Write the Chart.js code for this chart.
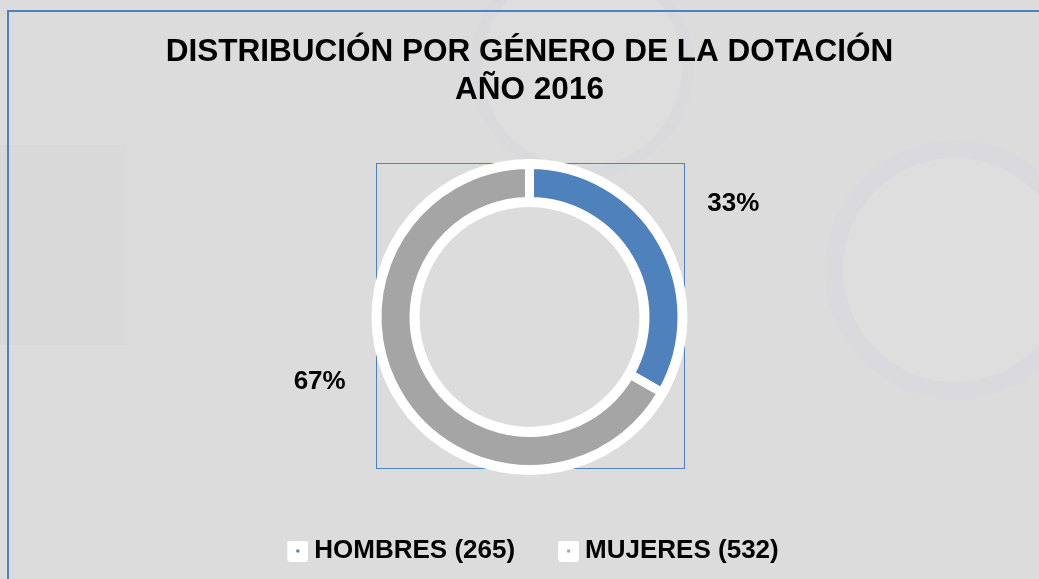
<!DOCTYPE html>
<html>
<head>
<meta charset="utf-8">
<script src="https://cdn.jsdelivr.net/npm/chart.js@4/dist/chart.umd.min.js"></script>
<style>
  html, body { margin: 0; padding: 0; background: #dcdcdc; overflow: hidden; }
  #wrap { position: relative; width: 1039px; height: 579px; overflow: hidden; }
  .deco { position: absolute; border-radius: 50%; border: 18px solid rgba(208, 208, 222, 0.28); background: rgba(255, 255, 255, 0.07); }
  .panel { position: absolute; left: 0; top: 145px; width: 127px; height: 200px; background: #d9d9d9; }
  .frame { position: absolute; left: 7px; top: 10px; width: 1100px; height: 700px; border: 2px solid #4f81bd; }
  canvas { position: absolute; left: 0; top: 0; }
</style>
</head>
<body>
<div id="wrap">
  <div class="panel"></div>
  <div class="deco" style="left:825px;top:140px;width:224px;height:224px;"></div>
  <div class="deco" style="left:470px;top:-45px;width:200px;height:200px;border-width:12px;"></div>
  <div class="frame"></div>
  <canvas id="myChart" width="1039" height="579"></canvas>
</div>
<script>
const categories = ["HOMBRES (265)", "MUJERES (532)"];
const counts = [265, 532];
const colors = ["#4f81bd", "#a5a5a5"];
const titleLines = ["DISTRIBUCIÓN POR GÉNERO DE LA DOTACIÓN", "AÑO 2016"];

// label placement tweaks (angle shift in degrees, radius factor)
const labelShift = [1, 13];
const labelDist = [1.53, 1.44];

const total = counts.reduce((a, b) => a + b, 0);

// little white boxes with a coloured dot, like the original legend
// (canvas is wider than the box so the box sits closer to the text)
function makeMarker(color) {
  const c = document.createElement("canvas");
  c.width = 35; c.height = 21;
  const g = c.getContext("2d");
  g.fillStyle = "#ffffff";
  g.beginPath();
  g.roundRect(14, 0, 21, 21, 3);
  g.fill();
  g.fillStyle = color;
  g.fillRect(23, 9, 3, 3);
  return c;
}
const markers = colors.map(makeMarker);

const extras = {
  id: "extras",
  beforeDatasetsDraw(chart) {
    const arc = chart.getDatasetMeta(1).data[0];
    if (!arc) return;
    const ctx = chart.ctx;
    const h = arc.outerRadius + 1.5;
    ctx.save();
    ctx.strokeStyle = "#4f81bd";
    ctx.lineWidth = 1;
    ctx.strokeRect(Math.round(arc.x - h) + 0.5, Math.round(arc.y - h) + 0.5, Math.round(2 * h), Math.round(2 * h - 3));
    ctx.restore();
  },
  afterDatasetsDraw(chart) {
    const meta = chart.getDatasetMeta(1);
    const ctx = chart.ctx;
    ctx.save();
    ctx.font = "bold 26px 'Liberation Sans', Arial, sans-serif";
    ctx.fillStyle = "#000";
    ctx.textAlign = "center";
    ctx.textBaseline = "middle";
    meta.data.forEach((arc, i) => {
      const mid = (arc.startAngle + arc.endAngle) / 2 + labelShift[i] * Math.PI / 180;
      const r = arc.outerRadius * labelDist[i];
      const pct = Math.round(counts[i] / total * 100) + "%";
      ctx.fillText(pct, arc.x + Math.cos(mid) * r, arc.y + Math.sin(mid) * r);
    });
    ctx.restore();
  }
};

const ctx = document.getElementById("myChart").getContext("2d");
new Chart(ctx, {
  type: "doughnut",
  data: {
    labels: categories,
    datasets: [
      { data: [1], backgroundColor: ["#ffffff"], borderWidth: 0, weight: 5.5 },
      { data: counts, backgroundColor: colors, borderColor: "#ffffff", borderWidth: 9, weight: 37 },
      { data: [1], backgroundColor: ["#ffffff"], borderWidth: 0, weight: 5.5 }
    ]
  },
  options: {
    responsive: false,
    animation: false,
    radius: 158,
    cutout: "69.6%",
    layout: { padding: { left: 20, bottom: 5 } },
    plugins: {
      tooltip: { enabled: false },
      title: {
        display: true,
        text: titleLines,
        color: "#000",
        font: { family: "'Liberation Sans', Arial, sans-serif", size: 31.5, weight: "bold", lineHeight: 38 / 31.5 },
        padding: { top: 33, bottom: 23 }
      },
      legend: {
        position: "bottom",
        labels: {
          color: "#000",
          font: { family: "'Liberation Sans', Arial, sans-serif", size: 26, weight: "bold" },
          usePointStyle: true,
          boxWidth: 21,
          boxHeight: 21,
          padding: 36,
          generateLabels: () => categories.map((c, i) => ({
            text: c,
            fillStyle: colors[i],
            strokeStyle: colors[i],
            lineWidth: 0,
            pointStyle: markers[i],
            hidden: false,
            index: i,
            datasetIndex: 1,
            fontColor: "#000"
          }))
        }
      }
    }
  },
  plugins: [extras]
});
</script>
</body>
</html>
